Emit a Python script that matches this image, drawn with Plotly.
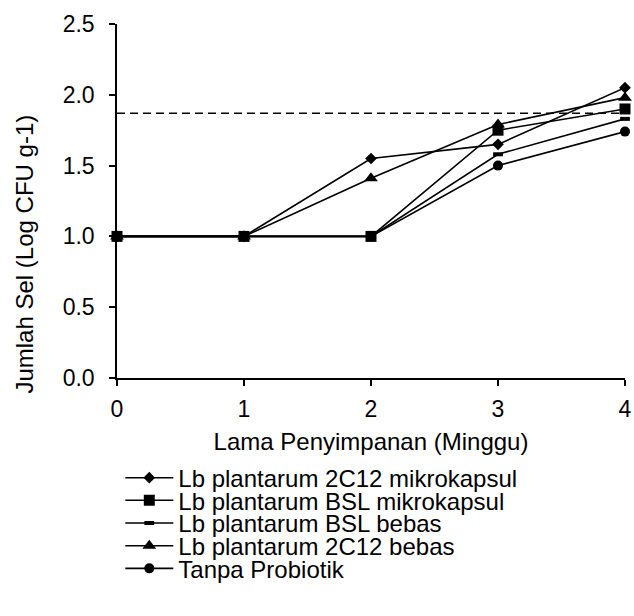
import plotly.graph_objects as go

weeks = [0, 1, 2, 3, 4]
tick_vals_x = [0, 1, 2, 3, 4]
tick_vals_y = [0.0, 0.5, 1.0, 1.5, 2.0, 2.5]

names = [
    "Lb plantarum 2C12 mikrokapsul",
    "Lb plantarum BSL mikrokapsul",
    "Lb plantarum BSL bebas",
    "Lb plantarum 2C12 bebas",
    "Tanpa Probiotik",
]
mikro_2c12 = [1.0, 1.0, 1.55, 1.65, 2.05]
mikro_bsl = [1.0, 1.0, 1.0, 1.75, 1.90]
bebas_bsl = [1.0, 1.0, 1.0, 1.58, 1.83]
bebas_2c12 = [1.0, 1.0, 1.41, 1.79, 1.98]
tanpa = [1.0, 1.0, 1.0, 1.50, 1.74]
threshold = 1.87

FONT = "Liberation Sans, Arial, sans-serif"
FS = 24
TFS = 23

W, H = 634, 616
ML, MR, MT, MB = 116.7, 9, 24, 238.3
PW = W - ML - MR
PH = H - MT - MB

def py(px):
    return (H - MB - px) / PH

def pxx(px):
    return (px - ML) / PW

styles = {
    0: dict(symbol="diamond", size=9),
    1: dict(symbol="square", size=11),
    2: dict(symbol="line-ew", size=7, line=dict(width=4, color="black")),
    3: dict(symbol="triangle-up", size=12),
    4: dict(symbol="circle", size=10),
}
series = [mikro_2c12, mikro_bsl, bebas_bsl, bebas_2c12, tanpa]
draw_order = [4, 3, 2, 0, 1]
legend_rows = [477.7, 500.3, 523.0, 545.7, 568.3]
ITEMW = 48

fig = go.Figure()

fig.add_trace(go.Scatter(
    x=[weeks[0], weeks[-1]], y=[threshold, threshold], mode="lines",
    line=dict(color="black", width=1.5, dash="8px,5px"),
    showlegend=False, hoverinfo="skip", cliponaxis=False,
))

for i in draw_order:
    m = dict(color="black")
    m.update(styles[i])
    lg = "legend" if i == 0 else f"legend{i+1}"
    fig.add_trace(go.Scatter(
        x=weeks, y=series[i], mode="lines+markers", name=names[i],
        line=dict(color="black", width=1.6),
        marker=m, cliponaxis=False, legend=lg,
    ))

layout_legends = {}
for i in range(5):
    key = "legend" if i == 0 else f"legend{i+1}"
    layout_legends[key] = dict(
        x=pxx(178 - 10 - ITEMW), xanchor="left", y=py(legend_rows[i]), yanchor="middle",
        font=dict(family=FONT, size=FS, color="black"),
        bgcolor="rgba(0,0,0,0)", borderwidth=0, itemwidth=ITEMW,
    )

fig.update_layout(
    width=W, height=H,
    margin=dict(l=ML, r=MR, t=MT, b=MB, autoexpand=False),
    paper_bgcolor="white", plot_bgcolor="white",
    font=dict(family=FONT, size=FS, color="black"),
    **layout_legends,
)

fig.update_xaxes(
    range=[0, 4], tickvals=tick_vals_x, ticktext=[str(v) for v in tick_vals_x],
    showline=True, linecolor="black", linewidth=1.5, mirror=False,
    ticks="outside", ticklen=6, tickwidth=1.5, tickcolor="black",
    showgrid=False, zeroline=False, ticklabelstandoff=4,
    title=dict(text="Lama Penyimpanan (Minggu)", standoff=12,
               font=dict(family=FONT, size=FS, color="black")),
    tickfont=dict(family=FONT, size=TFS, color="black"),
)
fig.update_yaxes(
    range=[0, 2.5], tickvals=tick_vals_y, ticktext=[f"{v:.1f}" for v in tick_vals_y],
    showline=True, linecolor="black", linewidth=1.5,
    ticks="outside", ticklen=6, tickwidth=1.5, tickcolor="black",
    showgrid=False, zeroline=False, ticklabelstandoff=10,
    tickfont=dict(family=FONT, size=TFS, color="black"),
)

fig.add_annotation(
    text="Jumlah Sel (Log CFU g-1)", textangle=-90,
    xref="paper", yref="paper", x=pxx(24), y=py(254),
    xanchor="center", yanchor="middle", showarrow=False,
    font=dict(family=FONT, size=FS, color="black"),
)

fig.write_html("out.html", config={"displayModeBar": False},
               post_script="document.body.style.margin='0px';")
